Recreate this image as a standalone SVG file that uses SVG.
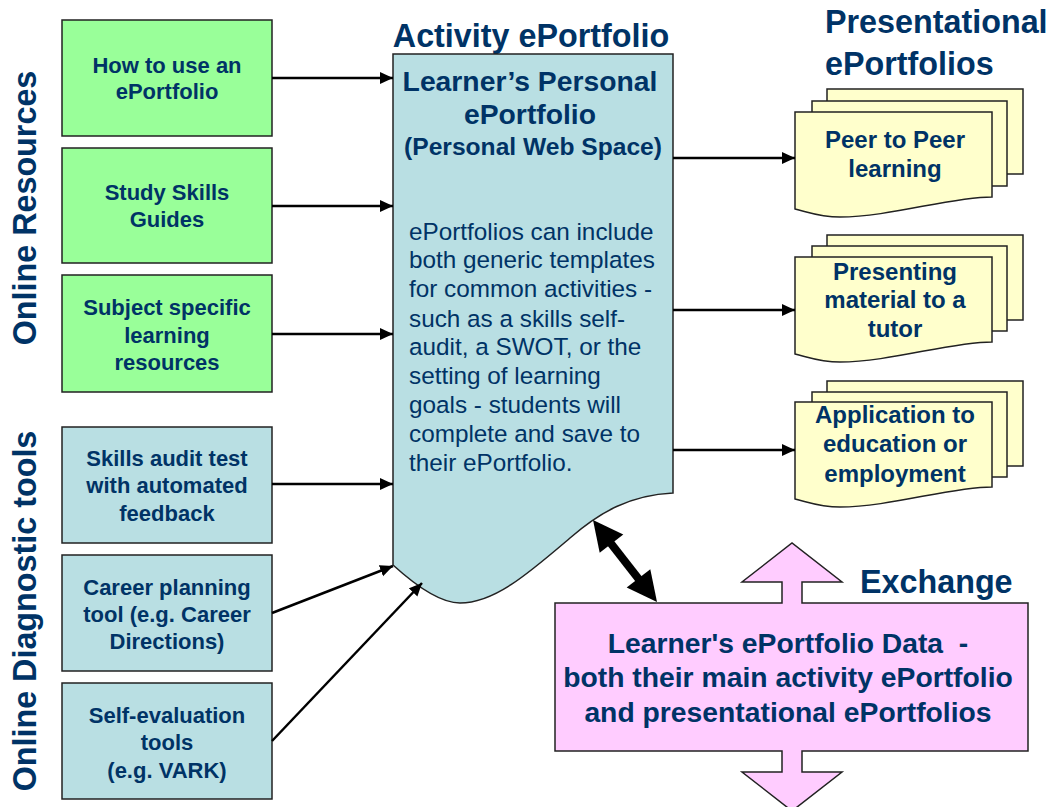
<svg xmlns="http://www.w3.org/2000/svg" width="1052" height="807" viewBox="0 0 1052 807">
<defs>
<style>
text{font-family:"Liberation Sans",Arial,sans-serif;fill:#003366;}
.b{font-weight:bold;}
.big{font-size:32.3px;font-weight:bold;}
.lbl{font-size:22px;font-weight:bold;text-anchor:middle;}
.doc{font-size:24px;font-weight:bold;text-anchor:middle;}
.body{font-size:24.3px;}
.green{fill:#99FF99;stroke:#222;stroke-width:1.5;}
.blue{fill:#B9DFE3;stroke:#222;stroke-width:1.5;}
.yellow{fill:#FFFFCC;stroke:#222;stroke-width:1.5;}
.pink{fill:#FFCCFF;stroke:#222;stroke-width:1.5;}
.conn{stroke:#000;stroke-width:2.5;fill:none;marker-end:url(#ah);}
</style>
<marker id="ah" markerUnits="userSpaceOnUse" markerWidth="14" markerHeight="14" refX="13" refY="6" orient="auto">
<path d="M0,0 L13,6 L0,12 Z" fill="#000"/>
</marker>
</defs>
<rect width="1052" height="807" fill="#fff"/>

<!-- vertical labels -->
<text class="big" transform="translate(36,208) rotate(-90)" text-anchor="middle" font-size="32.8">Online Resources</text>
<text class="big" transform="translate(36,611) rotate(-90)" text-anchor="middle">Online Diagnostic tools</text>

<!-- titles -->
<text class="big" x="531" y="47" text-anchor="middle">Activity ePortfolio</text>
<text class="big" x="825" y="33">Presentational</text>
<text class="big" x="825" y="75">ePortfolios</text>
<text class="big" x="860" y="593">Exchange</text>

<!-- left nodes -->
<g id="howto">
<rect class="green" x="62" y="20" width="210" height="116"/>
<text class="lbl" x="167" y="73">How to use an</text>
<text class="lbl" x="167" y="99">ePortfolio</text>
</g>
<g id="studyskills">
<rect class="green" x="62" y="148" width="210" height="115"/>
<text class="lbl" x="167" y="200">Study Skills</text>
<text class="lbl" x="167" y="227">Guides</text>
</g>
<g id="subject">
<rect class="green" x="62" y="275" width="210" height="117"/>
<text class="lbl" x="167" y="315">Subject specific</text>
<text class="lbl" x="167" y="343">learning</text>
<text class="lbl" x="167" y="370">resources</text>
</g>
<g id="skillsaudit">
<rect class="blue" x="62" y="427" width="210" height="116"/>
<text class="lbl" x="167" y="466">Skills audit test</text>
<text class="lbl" x="167" y="493">with automated</text>
<text class="lbl" x="167" y="521">feedback</text>
</g>
<g id="career">
<rect class="blue" x="62" y="555" width="210" height="116"/>
<text class="lbl" x="167" y="595">Career planning</text>
<text class="lbl" x="167" y="622">tool (e.g. Career</text>
<text class="lbl" x="167" y="649">Directions)</text>
</g>
<g id="selfeval">
<rect class="blue" x="62" y="683" width="210" height="116"/>
<text class="lbl" x="167" y="723">Self-evaluation</text>
<text class="lbl" x="167" y="750">tools</text>
<text class="lbl" x="167" y="778">(e.g. VARK)</text>
</g>

<!-- central node -->
<g id="activity">
<path class="blue" d="M393,54 H673 V493 C630,495 600,512 570,538 C530,572 495,603 460,603 C440,603 415,585 393,565 Z"/>
<text class="b" x="530" y="91" text-anchor="middle" font-size="28.3">Learner’s Personal</text>
<text class="b" x="530" y="124" text-anchor="middle" font-size="28.3">ePortfolio</text>
<text class="b" x="533" y="155" text-anchor="middle" font-size="24.6">(Personal Web Space)</text>
<text class="body" x="409" y="240">ePortfolios can include</text>
<text class="body" x="409" y="268">both generic templates</text>
<text class="body" x="409" y="297">for common activities -</text>
<text class="body" x="409" y="327">such as a skills self-</text>
<text class="body" x="409" y="355">audit, a SWOT, or the</text>
<text class="body" x="409" y="384">setting of learning</text>
<text class="body" x="409" y="413">goals - students will</text>
<text class="body" x="409" y="442">complete and save to</text>
<text class="body" x="409" y="471">their ePortfolio.</text>
</g>

<!-- presentational docs -->
<g id="peer">
<rect class="yellow" x="827" y="89" width="196" height="85"/>
<rect class="yellow" x="812" y="101" width="195" height="85"/>
<path class="yellow" d="M795,112 H992 V197 C950,197 890,217 840,217 C820,217 808,212 795,209 Z"/>
<text class="doc" x="895" y="148">Peer to Peer</text>
<text class="doc" x="895" y="177">learning</text>
</g>
<g id="tutor">
<rect class="yellow" x="827" y="235" width="196" height="85"/>
<rect class="yellow" x="812" y="246" width="195" height="85"/>
<path class="yellow" d="M795,257 H992 V342 C950,342 890,362 840,362 C820,362 808,357 795,354 Z"/>
<text class="doc" x="895" y="280">Presenting</text>
<text class="doc" x="895" y="308">material to a</text>
<text class="doc" x="895" y="337">tutor</text>
</g>
<g id="application">
<rect class="yellow" x="827" y="381" width="196" height="85"/>
<rect class="yellow" x="812" y="392" width="195" height="85"/>
<path class="yellow" d="M795,402 H992 V487 C950,487 890,507 840,507 C820,507 808,502 795,499 Z"/>
<text class="doc" x="895" y="423">Application to</text>
<text class="doc" x="895" y="452">education or</text>
<text class="doc" x="895" y="482">employment</text>
</g>

<!-- exchange -->
<g id="exchange">
<path class="pink" d="M555,603 H782 V582 H742 L792,543 L842,582 H802 V603 H1028 V751 H802 V772 H842 L792,811 L742,772 H782 V751 H555 Z"/>
<text class="b" x="788" y="653" text-anchor="middle" font-size="28.3" style="white-space:pre">Learner's ePortfolio Data  -</text>
<text class="b" x="788" y="687" text-anchor="middle" font-size="28.3">both their main activity ePortfolio</text>
<text class="b" x="788" y="722" text-anchor="middle" font-size="28.3">and presentational ePortfolios</text>
</g>

<!-- connectors -->
<g id="connectors">
<line class="conn" x1="272" y1="78" x2="393" y2="78"/>
<line class="conn" x1="272" y1="206" x2="393" y2="206"/>
<line class="conn" x1="272" y1="334" x2="393" y2="334"/>
<line class="conn" x1="272" y1="484" x2="393" y2="484"/>
<line class="conn" x1="272" y1="613" x2="393" y2="566"/>
<line class="conn" x1="272" y1="741" x2="422" y2="583"/>
<line class="conn" x1="673" y1="158" x2="795" y2="158"/>
<line class="conn" x1="673" y1="310" x2="795" y2="310"/>
<line class="conn" x1="673" y1="450" x2="795" y2="450"/>
<line x1="609" y1="541" x2="641" y2="582" stroke="#000" stroke-width="8"/>
<polygon points="593,520 623.3,534.4 599.7,552.8" fill="#000"/>
<polygon points="657,602 650.3,569.2 626.7,587.6" fill="#000"/>
</g>
</svg>
